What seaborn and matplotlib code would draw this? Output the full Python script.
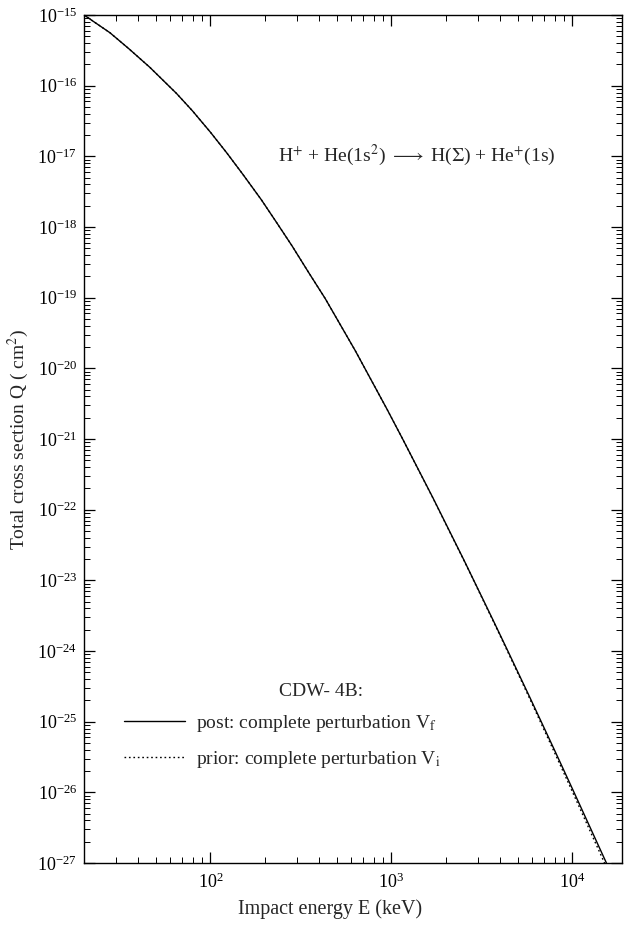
import numpy as np
import pandas as pd
import matplotlib
matplotlib.use("Agg")
import matplotlib.pyplot as plt
from matplotlib.ticker import LogLocator, NullFormatter
import seaborn as sns

# ---- data ----
energy_kev = [20.0, 27.8, 35.5, 46.2, 64.9, 79.4, 100, 123, 151, 191, 231, 282,
              351, 430, 631, 946, 1159, 1698, 2512, 3614, 4406, 5808, 7943,
              10070, 15420]
q_post = [1.0e-15, 5.62e-16, 3.31e-16, 1.82e-16, 7.76e-17, 4.42e-17, 2.19e-17,
          1.12e-17, 5.56e-18, 2.43e-18, 1.175e-18, 5.43e-19, 2.21e-19, 9.77e-20,
          1.78e-20, 2.63e-21, 9.77e-22, 1.46e-22, 1.95e-23, 2.86e-24, 9.91e-25,
          2.23e-25, 4.02e-26, 1.08e-26, 1.0e-27]
q_prior = [1.0e-15, 5.62e-16, 3.31e-16, 1.82e-16, 7.76e-17, 4.42e-17, 2.19e-17,
           1.12e-17, 5.56e-18, 2.43e-18, 1.175e-18, 5.43e-19, 2.21e-19, 9.77e-20,
           1.78e-20, 2.63e-21, 9.75e-22, 1.45e-22, 1.93e-23, 2.80e-24, 9.6e-25,
           2.12e-25, 3.72e-26, 9.8e-27, 0.87e-27]
label_post = "post: complete perturbation V$_\\mathrm{f}$"
label_prior = "prior: complete perturbation V$_\\mathrm{i}$"

df = pd.concat([
    pd.DataFrame({"E": energy_kev, "Q": q_post, "model": "post"}),
    pd.DataFrame({"E": energy_kev, "Q": q_prior, "model": "prior"}),
])

sns.set_theme(style="ticks")
plt.rcParams["font.family"] = ["Liberation Serif", "DejaVu Serif"]
plt.rcParams["mathtext.fontset"] = "stix"
plt.rcParams["axes.unicode_minus"] = False

fig = plt.figure(figsize=(6.24, 9.25), dpi=100)
ax = fig.add_axes([84 / 624, 1 - 863 / 925, (622 - 84) / 624, (863 - 15) / 925])

sns.lineplot(data=df[df.model == "post"], x="E", y="Q", ax=ax, color="black",
             linewidth=1.0, label=label_post, estimator=None, sort=False)
sns.lineplot(data=df[df.model == "prior"], x="E", y="Q", ax=ax, color="black",
             linewidth=1.0, linestyle=(0, (1.2, 2.0)), label=label_prior,
             estimator=None, sort=False)

ax.set_xscale("log")
ax.set_yscale("log")
ax.set_xlim(20, 1.88e4)
ax.set_ylim(1e-27, 1e-15)

ax.xaxis.set_major_locator(LogLocator(base=10, numticks=20))
ax.yaxis.set_major_locator(LogLocator(base=10, numticks=30))
ax.xaxis.set_minor_locator(LogLocator(base=10, subs=np.arange(2, 10), numticks=100))
ax.yaxis.set_minor_locator(LogLocator(base=10, subs=np.arange(2, 10), numticks=200))
ax.xaxis.set_minor_formatter(NullFormatter())
ax.yaxis.set_minor_formatter(NullFormatter())

ax.tick_params(which="both", direction="in", top=True, right=True, colors="black")
ax.tick_params(which="major", length=8, width=0.9, labelsize=13)
ax.tick_params(which="minor", length=4, width=0.7)
ax.tick_params(axis="x", which="major", pad=7)
ax.tick_params(axis="y", which="major", pad=5)
for s in ax.spines.values():
    s.set_linewidth(1.0)
    s.set_color("black")

ax.set_xlabel("Impact energy E (keV)", fontsize=14.5)
ax.set_ylabel("Total cross section Q ( cm$^{2}$)", fontsize=14)
ax.xaxis.set_label_coords((330 - 84) / 538, -0.043)
ax.yaxis.set_label_coords(-0.098, 0.5)

ax.text(0.619, 0.835,
        "H$^{+}$ + He(1s$^{2}$) $\\longrightarrow$ H($\\Sigma$) + He$^{+}$(1s)",
        transform=ax.transAxes, ha="center", va="center", fontsize=14)
ax.text((321 - 84) / 538, (863 - 692) / 848, "CDW- 4B:", transform=ax.transAxes,
        ha="center", va="center", fontsize=14)

leg = ax.legend(loc="upper left", bbox_to_anchor=((127 - 84) / 538 - 0.005, (863 - 713) / 848),
                frameon=False, fontsize=14, handlelength=3.1, handletextpad=0.6,
                labelspacing=0.75, borderaxespad=0, borderpad=0)

fig.savefig("out.png", dpi=100)
